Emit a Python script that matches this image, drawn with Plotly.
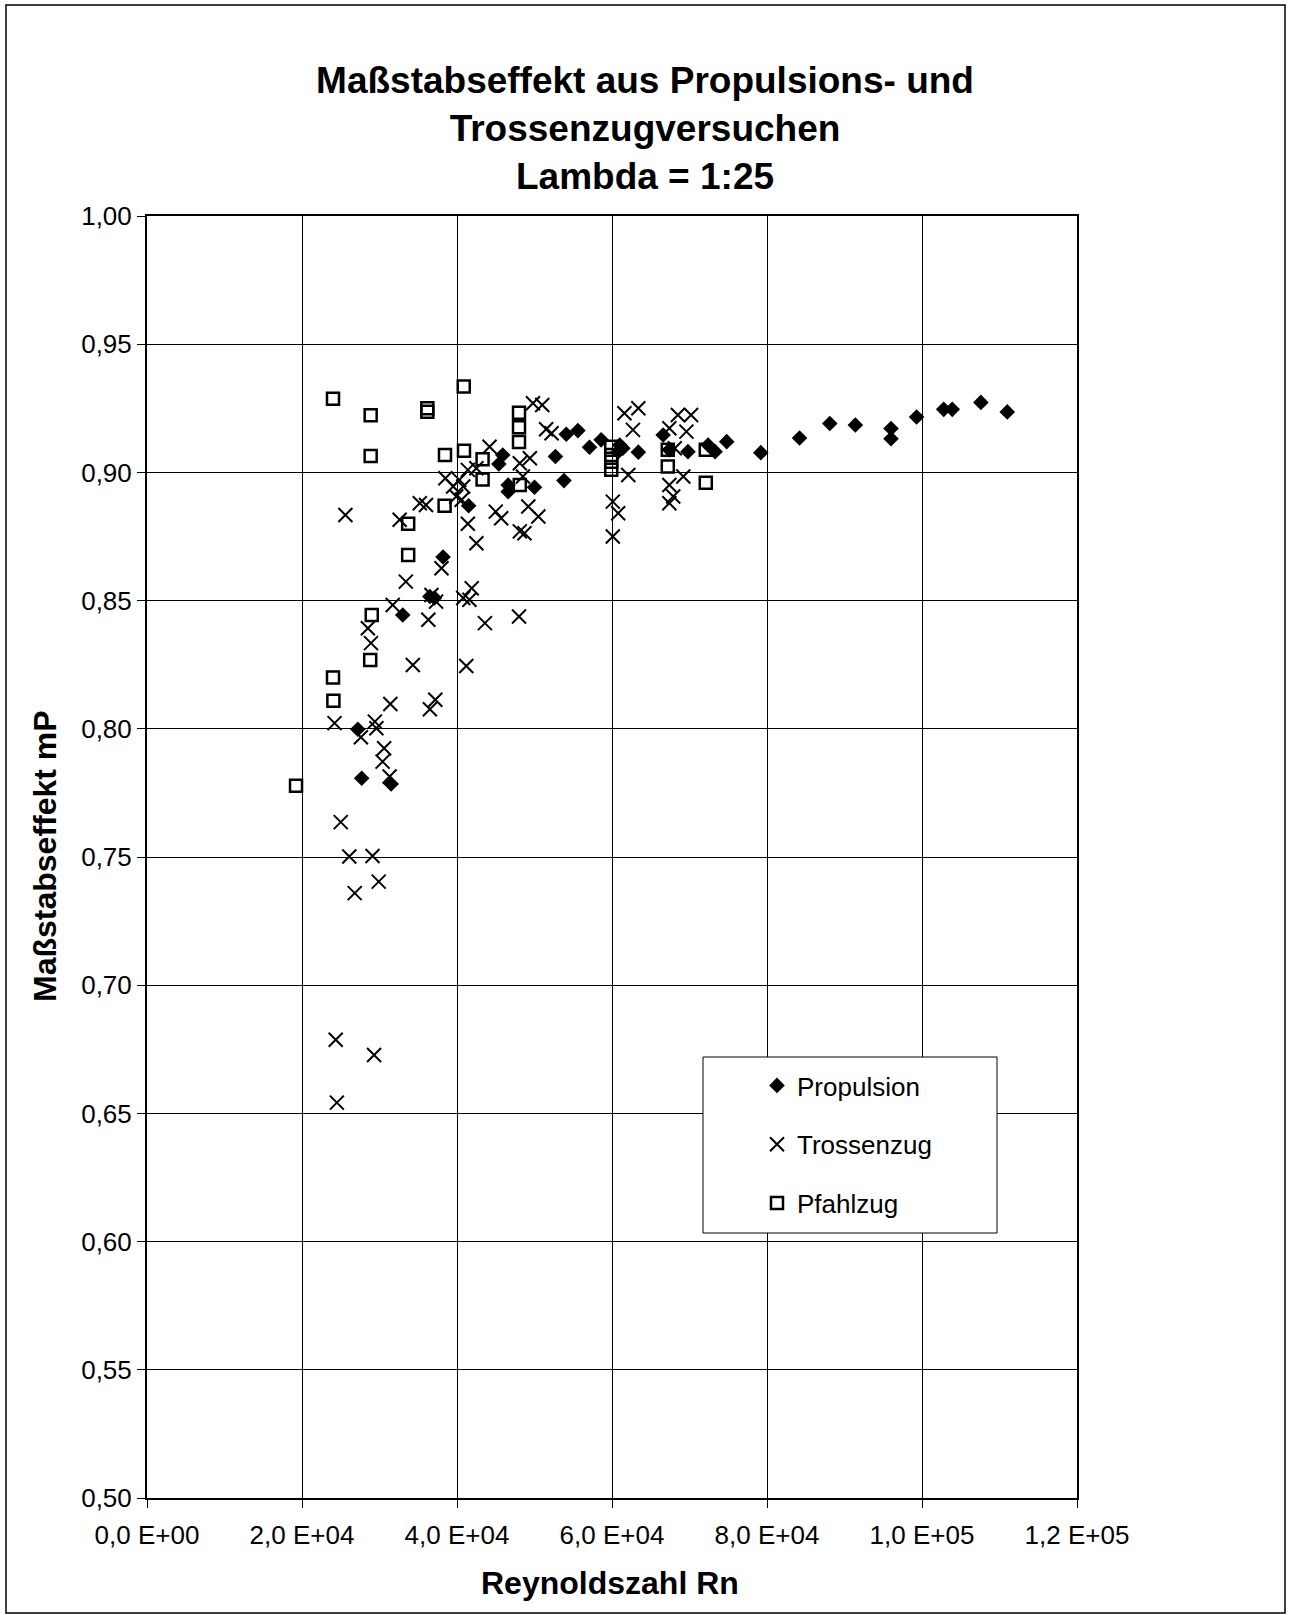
import plotly.graph_objects as go

# ---- Data (Reynolds number Rn, scale effect mP) ----
prop_rn = [27200, 27700, 31500, 33000, 36500, 37100, 38200, 41500, 45400, 45900,
           46600, 46600, 50000, 52700, 53800, 54100, 55600, 57100, 58600, 60800,
           61000, 61400, 63400, 66600, 67400, 69800, 72400, 73300, 74800, 79200,
           84200, 88100, 91400, 96000, 96000, 99300, 102800, 103900, 107600, 111000]
prop_mp = [0.7998, 0.7807, 0.7785, 0.8444, 0.8516, 0.8510, 0.8670, 0.8870, 0.9033, 0.9068,
           0.8951, 0.8925, 0.8942, 0.9062, 0.8968, 0.9149, 0.9163, 0.9098, 0.9127, 0.9081,
           0.9107, 0.9094, 0.9079, 0.9146, 0.9088, 0.9081, 0.9107, 0.9081, 0.9120, 0.9077,
           0.9134, 0.9191, 0.9185, 0.9171, 0.9131, 0.9216, 0.9246, 0.9246, 0.9273, 0.9236]

tross_rn = [24500, 24350, 29300, 26800, 29900, 26100, 29100, 25000, 31300, 30400,
            30600, 27600, 29600, 29400, 24200, 31400, 36500, 37200, 34300, 41200,
            28900, 28500, 36300, 43600, 48000, 31700, 37300, 36700, 40800, 41600,
            41900, 33400, 38000, 42500, 41400, 32600, 25600, 35200, 36000, 40600,
            39900, 39500, 40800, 38500, 40300, 41400, 42500, 44200, 45000, 45700,
            48100, 48700, 49200, 50500, 48500, 48100, 49400, 49800, 51000, 51500,
            52200, 60100, 60800, 60100, 62100, 62700, 61600, 63400, 67400, 67900,
            67400, 69200, 68100, 67400, 69600, 68500, 70200]
tross_mp = [0.6542, 0.6787, 0.6728, 0.7359, 0.7404, 0.7502, 0.7504, 0.7636, 0.7814, 0.7872,
            0.7924, 0.7967, 0.8002, 0.8028, 0.8022, 0.8097, 0.8076, 0.8113, 0.8249, 0.8245,
            0.8334, 0.8392, 0.8425, 0.8412, 0.8438, 0.8483, 0.8496, 0.8522, 0.8510, 0.8503,
            0.8548, 0.8574, 0.8626, 0.8724, 0.8800, 0.8815, 0.8834, 0.8880, 0.8873, 0.8893,
            0.8906, 0.8945, 0.8945, 0.8977, 0.8971, 0.9010, 0.9016, 0.9100, 0.8847, 0.8821,
            0.8770, 0.8763, 0.8867, 0.8828, 0.8984, 0.9036, 0.9055, 0.9270, 0.9263, 0.9168,
            0.9153, 0.8750, 0.8841, 0.8886, 0.8990, 0.9166, 0.9231, 0.9250, 0.8880, 0.8906,
            0.8951, 0.8984, 0.9094, 0.9172, 0.9159, 0.9224, 0.9224]

pfahl_rn = [19230, 24000, 24050, 28800, 29000, 33700, 33700, 38400, 24000, 28860,
            28860, 36170, 36170, 40870, 38450, 40900, 43300, 43300, 48000, 48000,
            48000, 48100, 59900, 59900, 59900, 59900, 67200, 67200, 72100, 72100]
pfahl_mp = [0.7778, 0.8200, 0.8109, 0.8268, 0.8444, 0.8678, 0.8800, 0.8870, 0.9287, 0.9223,
            0.9064, 0.9250, 0.9237, 0.9335, 0.9068, 0.9084, 0.9051, 0.8972, 0.9233, 0.9176,
            0.9119, 0.8951, 0.9100, 0.9068, 0.9042, 0.9010, 0.9088, 0.9023, 0.9088, 0.8960]

x_ticks = [0, 20000, 40000, 60000, 80000, 100000, 120000]
x_labels = ["0,0 E+00", "2,0 E+04", "4,0 E+04", "6,0 E+04", "8,0 E+04", "1,0 E+05", "1,2 E+05"]
y_ticks = [0.50, 0.55, 0.60, 0.65, 0.70, 0.75, 0.80, 0.85, 0.90, 0.95, 1.00]
y_labels = ["0,50", "0,55", "0,60", "0,65", "0,70", "0,75", "0,80", "0,85", "0,90", "0,95", "1,00"]

FONT = "Liberation Sans, Arial, sans-serif"
W, H = 1290, 1615
L, R, T, B = 147, 1077, 216, 1498


def px(xp):
    return (xp - L) / (R - L)


def py(yp):
    return (B - yp) / (B - T)


fig = go.Figure()
fig.add_trace(go.Scatter(
    x=prop_rn, y=prop_mp, mode="markers", name="Propulsion", legendgroup="a",
    marker=dict(symbol="diamond", size=12, color="black", line=dict(width=0)),
))
fig.add_trace(go.Scatter(
    x=tross_rn, y=tross_mp, mode="markers", name="Trossenzug", legendgroup="b",
    marker=dict(symbol="x-thin", size=14, color="black", line=dict(width=2, color="black")),
))
fig.add_trace(go.Scatter(
    x=pfahl_rn, y=pfahl_mp, mode="markers", name="Pfahlzug", legendgroup="c",
    marker=dict(symbol="square-open", size=12, color="black", line=dict(width=2.5, color="black")),
))

axis_common = dict(
    showgrid=True, gridcolor="black", gridwidth=1, zeroline=False,
    showline=True, linecolor="black", linewidth=2, mirror=True,
    ticks="outside", ticklen=8, tickcolor="black", tickwidth=1,
    tickfont=dict(family=FONT, size=26, color="black"),
)

fig.update_layout(
    width=W, height=H,
    margin=dict(l=L, r=W - R, t=T, b=H - B),
    paper_bgcolor="white", plot_bgcolor="white",
    font=dict(family=FONT, color="black"),
    title=dict(
        text="<b>Maßstabseffekt aus Propulsions- und<br>Trossenzugversuchen<br>Lambda = 1:25</b>",
        x=0.5, xref="container", xanchor="center",
        y=1 - 93 / H, yref="container", yanchor="top",
        font=dict(family=FONT, size=37, color="black"),
    ),
    xaxis=dict(range=[0, 120000], tickvals=x_ticks, ticktext=x_labels,
               ticklabelstandoff=5, **axis_common),
    yaxis=dict(range=[0.5, 1.0], tickvals=y_ticks, ticktext=y_labels, **axis_common),
    showlegend=True,
    legend=dict(
        x=px(757), y=py(1062), xanchor="left", yanchor="top",
        bgcolor="rgba(0,0,0,0)", borderwidth=0,
        font=dict(family=FONT, size=26, color="black"),
        traceorder="grouped", tracegroupgap=22, itemsizing="trace",
    ),
    shapes=[
        dict(type="rect", xref="paper", yref="paper",
             x0=px(703), x1=px(997), y0=py(1057), y1=py(1233),
             line=dict(color="black", width=1), fillcolor="white", layer="above"),
        dict(type="rect", xref="paper", yref="paper",
             x0=px(6), x1=px(1285), y0=py(5), y1=py(1613),
             line=dict(color="black", width=1.5), fillcolor="rgba(0,0,0,0)"),
    ],
    annotations=[
        dict(text="<b>Reynoldszahl Rn</b>", xref="paper", yref="paper",
             x=px(610), y=py(1583), xanchor="center", yanchor="middle",
             showarrow=False, font=dict(family=FONT, size=32, color="black")),
        dict(text="<b>Maßstabseffekt mP</b>", xref="paper", yref="paper",
             x=px(45), y=py(856), xanchor="center", yanchor="middle", textangle=-90,
             showarrow=False, font=dict(family=FONT, size=32, color="black")),
    ],
)

fig.write_html("out.html")
